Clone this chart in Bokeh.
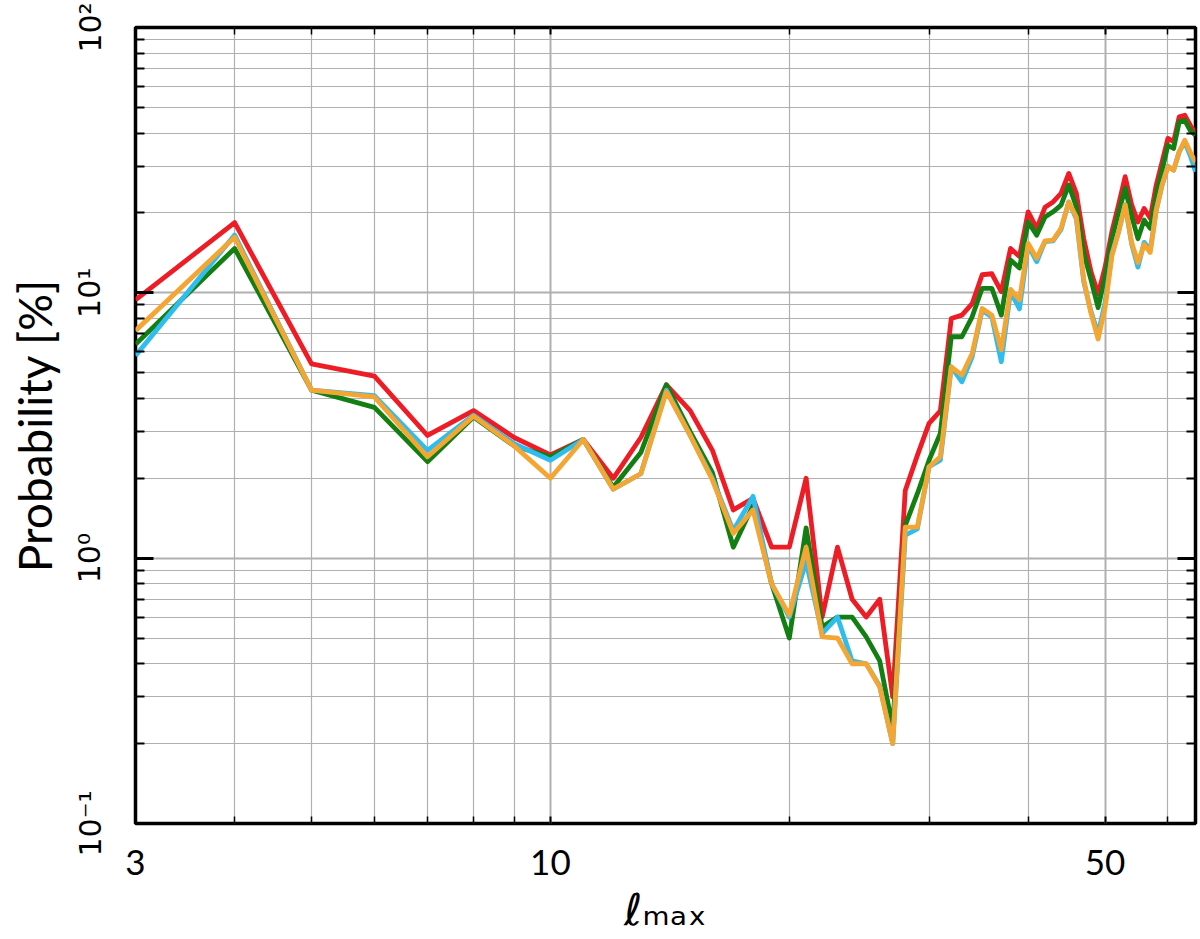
from bokeh.plotting import figure
from bokeh.models import Range1d, FixedTicker, LogAxis, CustomJSTickFormatter
from bokeh.embed import file_html
from bokeh.resources import INLINE

# ---------------- data ----------------
ell = list(range(3, 66))

prob_red = [9.4, 18.4, 5.4, 4.85, 2.9, 3.6, 2.85, 2.45, 2.8, 2.0,
            2.85, 4.5, 3.6, 2.55, 1.52, 1.68, 1.1, 1.1, 2.0, 0.6,
            1.1, 0.7, 0.6, 0.7, 0.3, 1.8, 2.44, 3.22, 3.59, 8.0,
            8.24, 9.1, 11.7, 11.8, 10.1, 14.7, 13.7, 20.2, 17.5, 21.0,
            22.0, 23.7, 28.2, 23.7, 16.0, 12.0, 9.9, 12.5, 17.0, 21.5,
            27.4, 21.5, 18.5, 20.8, 19.1, 25.5, 31.2, 38.2, 37.1, 46.1,
            46.7, 42.9, 39.9]

prob_green = [6.4, 14.7, 4.3, 3.7, 2.31, 3.4, 2.65, 2.41, 2.8, 1.85,
              2.5, 4.5, 3.0, 2.1, 1.10, 1.58, 0.80, 0.50, 1.30, 0.55,
              0.60, 0.60, 0.505, 0.41, 0.23, 1.33, 1.75, 2.34, 2.95, 6.83,
              6.83, 8.12, 10.4, 10.4, 8.24, 13.3, 12.4, 18.5, 16.5, 19.3,
              20.2, 21.4, 25.5, 21.1, 14.1, 11.2, 8.8, 11.5, 16.0, 20.0,
              24.8, 19.5, 16.0, 18.8, 17.5, 23.4, 29.0, 36.0, 35.0, 44.1,
              44.7, 41.0, 39.3]

prob_blue = [5.8, 16.5, 4.3, 4.1, 2.55, 3.46, 2.7, 2.34, 2.8, 1.82,
             2.08, 4.3, 2.9, 2.0, 1.27, 1.71, 0.80, 0.60, 0.97, 0.52,
             0.60, 0.41, 0.40, 0.33, 0.20, 1.22, 1.29, 2.21, 2.34, 5.26,
             4.62, 5.74, 8.6, 8.1, 5.5, 10.1, 8.7, 15.1, 13.1, 15.6,
             15.7, 17.3, 22.0, 19.0, 11.0, 8.5, 7.0, 9.2, 14.0, 17.0,
             21.5, 15.3, 12.5, 15.5, 14.5, 20.5, 25.5, 30.0, 29.0, 34.0,
             37.0, 33.0, 28.6]

prob_orange = [7.2, 16.2, 4.3, 4.05, 2.41, 3.43, 2.65, 2.0, 2.8, 1.82,
               2.08, 4.24, 2.9, 1.97, 1.24, 1.52, 0.80, 0.61, 1.10, 0.505,
               0.50, 0.40, 0.40, 0.327, 0.20, 1.31, 1.31, 2.21, 2.41, 5.26,
               4.9, 5.91, 8.73, 8.24, 6.1, 10.3, 9.4, 15.35, 13.5, 15.7,
               15.8, 17.5, 22.0, 19.3, 11.2, 8.36, 6.7, 8.8, 13.8, 17.0,
               21.5, 15.5, 13.0, 15.2, 14.2, 20.5, 25.5, 29.9, 29.0, 34.0,
               37.6, 34.0, 31.0]

x_major = [3, 10, 50]
x_major_labels = ["3", "10", "50"]
x_minor = [4, 5, 6, 7, 8, 9, 20, 30, 40, 60]
y_major = [0.1, 1, 10, 100]
y_major_labels = ["10\u207b\u00b9", "10\u2070", "10\u00b9", "10\u00b2"]
y_minor = [0.2, 0.3, 0.4, 0.5, 0.6, 0.7, 0.8, 0.9,
           2, 3, 4, 5, 6, 7, 8, 9,
           20, 30, 40, 50, 60, 70, 80, 90]

x_label = "\u2113\u2098\u2090\u2093"   # ell_max
y_label = "Probability [%]"

x_lo, x_hi = 3, 65
y_lo, y_hi = 0.1, 100

FONT = "Lato"

# ---------------- figure ----------------
p = figure(width=1200, height=939, x_axis_type="log", y_axis_type="log",
           x_range=Range1d(x_lo, x_hi), y_range=Range1d(y_lo, y_hi),
           output_backend="svg", toolbar_location=None,
           min_border_left=135, min_border_right=5,
           min_border_top=27, min_border_bottom=116)
p.background_fill_color = "white"
p.border_fill_color = "white"
p.outline_line_color = "black"
p.outline_line_width = 3.5

xtick = FixedTicker(ticks=x_major, minor_ticks=x_minor)
ytick = FixedTicker(ticks=y_major, minor_ticks=y_minor)

fmt_code = """
let best = 0, bd = 1e9;
for (let i = 0; i < vals.length; i++) {
  const d = Math.abs(Math.log10(tick) - Math.log10(vals[i]));
  if (d < bd) { bd = d; best = i; }
}
return labs[best];
"""
xfmt = CustomJSTickFormatter(args=dict(vals=x_major, labs=x_major_labels), code=fmt_code)
yfmt = CustomJSTickFormatter(args=dict(vals=y_major, labs=y_major_labels), code=fmt_code)

# grids
for g, t in ((p.xgrid, xtick), (p.ygrid, ytick)):
    g.ticker = t
    g.grid_line_color = "#b0b0b0"
    g.grid_line_width = 2
    g.minor_grid_line_color = "#b0b0b0"
    g.minor_grid_line_width = 1.2

# bottom axis
xa = p.xaxis[0]
xa.ticker = xtick
xa.formatter = xfmt
xa.axis_line_color = None
xa.major_tick_in = 7
xa.major_tick_out = 0
xa.minor_tick_in = 7
xa.minor_tick_out = 0
xa.major_tick_line_width = 2
xa.minor_tick_line_width = 1.5
xa.major_label_text_font = FONT
xa.major_label_text_font_size = "35px"
xa.major_label_text_color = "black"
xa.major_label_standoff = 26
xa.axis_label = x_label
xa.axis_label_text_font = "DejaVu Sans"
xa.axis_label_text_font_size = "44px"
xa.axis_label_text_font_style = "normal"
xa.axis_label_text_color = "black"
xa.axis_label_standoff = 6

# left axis
ya = p.yaxis[0]
ya.ticker = ytick
ya.formatter = yfmt
ya.axis_line_color = None
ya.major_tick_in = 18
ya.major_tick_out = 0
ya.minor_tick_in = 9
ya.minor_tick_out = 0
ya.major_tick_line_width = 3
ya.minor_tick_line_width = 2
ya.major_label_text_font = "DejaVu Sans"
ya.major_label_text_font_size = "30px"
ya.major_label_text_color = "black"
ya.major_label_orientation = "vertical"
ya.major_label_standoff = 28
ya.axis_label = y_label
ya.axis_label_text_font = FONT
ya.axis_label_text_font_size = "46px"
ya.axis_label_text_font_style = "normal"
ya.axis_label_text_color = "black"
ya.axis_label_standoff = 8

# mirrored axes (ticks only, invisible labels)
top = LogAxis(ticker=xtick, formatter=xfmt, axis_line_color=None,
              major_tick_in=7, major_tick_out=0, minor_tick_in=7, minor_tick_out=0,
              major_tick_line_width=2, minor_tick_line_width=1.5,
              major_label_text_font_size="1px", major_label_text_alpha=0,
              major_label_standoff=0)
p.add_layout(top, "above")
right = LogAxis(ticker=ytick, formatter=yfmt, axis_line_color=None,
                major_tick_in=18, major_tick_out=0, minor_tick_in=9, minor_tick_out=0,
                major_tick_line_width=3, minor_tick_line_width=2,
                major_label_text_font_size="1px", major_label_text_alpha=0,
                major_label_standoff=0)
p.add_layout(right, "right")

# ---------------- series ----------------
series = [(prob_red, "#EE1C25"), (prob_green, "#137F13"),
          (prob_blue, "#2EBDEE"), (prob_orange, "#F5A531")]
for vals, col in series:
    p.line(ell, vals, line_color=col, line_width=4.8, line_join="round")

open("out.html", "w").write(file_html(p, INLINE))
